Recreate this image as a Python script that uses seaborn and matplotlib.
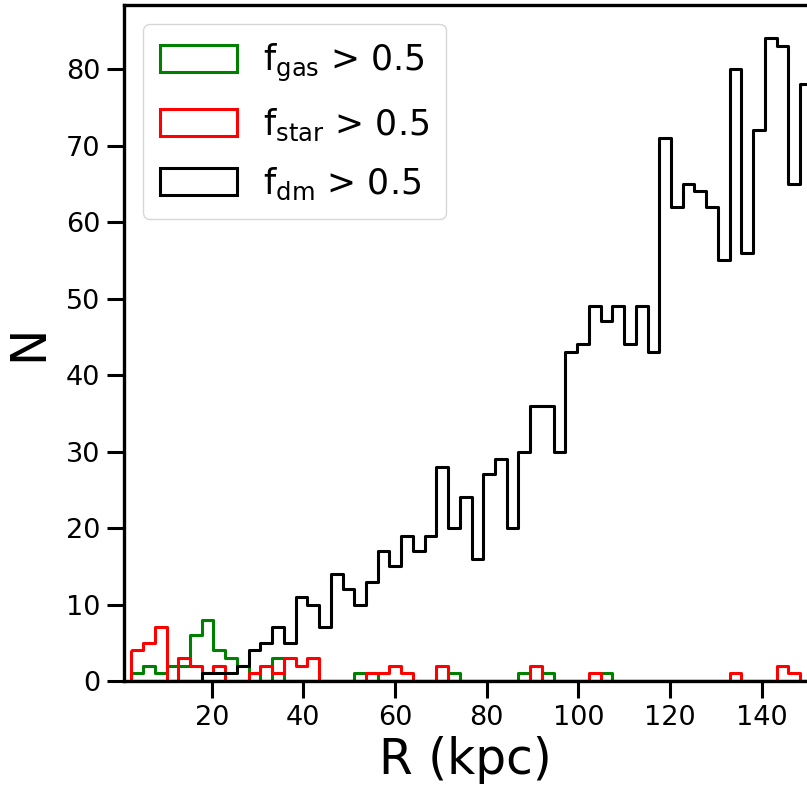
import numpy as np
import pandas as pd
import matplotlib
matplotlib.use("Agg")
import matplotlib.pyplot as plt
import seaborn as sns

# ---- data (counts per radial bin) ----
R_MIN = 2.46
R_MAX = 150.94
N_BINS = 58

gas_counts = [1, 2, 1, 2, 2, 6, 8, 4, 3, 2,
              1, 0, 3, 0, 0, 0, 0, 0, 0, 1,
              1, 0, 0, 0, 0, 0, 0, 1, 0, 0,
              0, 0, 0, 1, 0, 1, 0, 0, 0, 0,
              1, 0, 0, 0, 0, 0, 0, 0, 0, 0,
              0, 0, 0, 0, 0, 0, 0, 0]
star_counts = [4, 5, 7, 0, 3, 2, 1, 2, 0, 0,
               1, 2, 1, 3, 2, 3, 0, 0, 0, 0,
               1, 1, 2, 1, 0, 0, 2, 0, 0, 0,
               0, 0, 0, 0, 2, 0, 0, 0, 0, 1,
               0, 0, 0, 0, 0, 0, 0, 0, 0, 0,
               0, 1, 0, 0, 0, 2, 1, 0]
dm_counts = [0, 0, 0, 0, 0, 0, 1, 1, 1, 2,
             4, 5, 7, 5, 11, 10, 7, 14, 12, 10,
             13, 17, 15, 19, 17, 19, 28, 20, 24, 16,
             27, 29, 20, 30, 36, 36, 30, 43, 44, 49,
             47, 49, 44, 49, 43, 71, 62, 65, 64, 62,
             55, 80, 56, 72, 84, 83, 65, 78]

series_labels = [r'f$_{\mathrm{gas}}$ > 0.5',
                 r'f$_{\mathrm{star}}$ > 0.5',
                 r'f$_{\mathrm{dm}}$ > 0.5']
series_colors = ['green', 'red', 'black']

x_ticks = [20, 40, 60, 80, 100, 120, 140]
y_ticks = [0, 10, 20, 30, 40, 50, 60, 70, 80]

# ---- style ----
sns.set_style("ticks")
plt.rcParams['font.family'] = ['DejaVu Sans']
plt.rcParams['mathtext.fontset'] = 'dejavusans'
plt.rcParams['text.color'] = 'black'
plt.rcParams['axes.labelcolor'] = 'black'
plt.rcParams['xtick.color'] = 'black'
plt.rcParams['ytick.color'] = 'black'

edges = [float(e) for e in np.linspace(R_MIN, R_MAX, N_BINS + 1)]
centers = [0.5 * (a + b) for a, b in zip(edges[:-1], edges[1:])]

fig = plt.figure(figsize=(8.07, 7.91), dpi=100)
ax = fig.add_axes([124 / 807, 110 / 791, 683 / 807, 676 / 791])

for counts, color, label in zip([gas_counts, star_counts, dm_counts],
                                series_colors, series_labels):
    df = pd.DataFrame({'R': centers, 'N': counts})
    sns.histplot(data=df, x='R', weights='N', bins=edges, element='step',
                 fill=True, color=color, facecolor='none', edgecolor=color,
                 linewidth=2.2, label=label, ax=ax)

ax.set_xlim(0.864, 149.89)
ax.set_ylim(0, 88.37)
ax.set_xticks(x_ticks)
ax.set_yticks(y_ticks)
ax.tick_params(axis='both', which='major', labelsize=19.5, length=12,
               width=2.2, direction='out', color='black', labelcolor='black',
               pad=5)
for side in ['left', 'bottom', 'top']:
    ax.spines[side].set_linewidth(2.4)
    ax.spines[side].set_color('black')
ax.spines['right'].set_visible(False)

ax.set_xlabel('R (kpc)', fontsize=35, labelpad=4, color='black')
ax.set_ylabel('N', fontsize=35, labelpad=10, color='black')

ax.legend(loc='upper left', fontsize=25, handlelength=2.2, handleheight=0.82,
          labelspacing=0.66, borderpad=0.5, borderaxespad=0.55, handletextpad=0.75,
          frameon=True)

fig.savefig('out.png', dpi=100)
